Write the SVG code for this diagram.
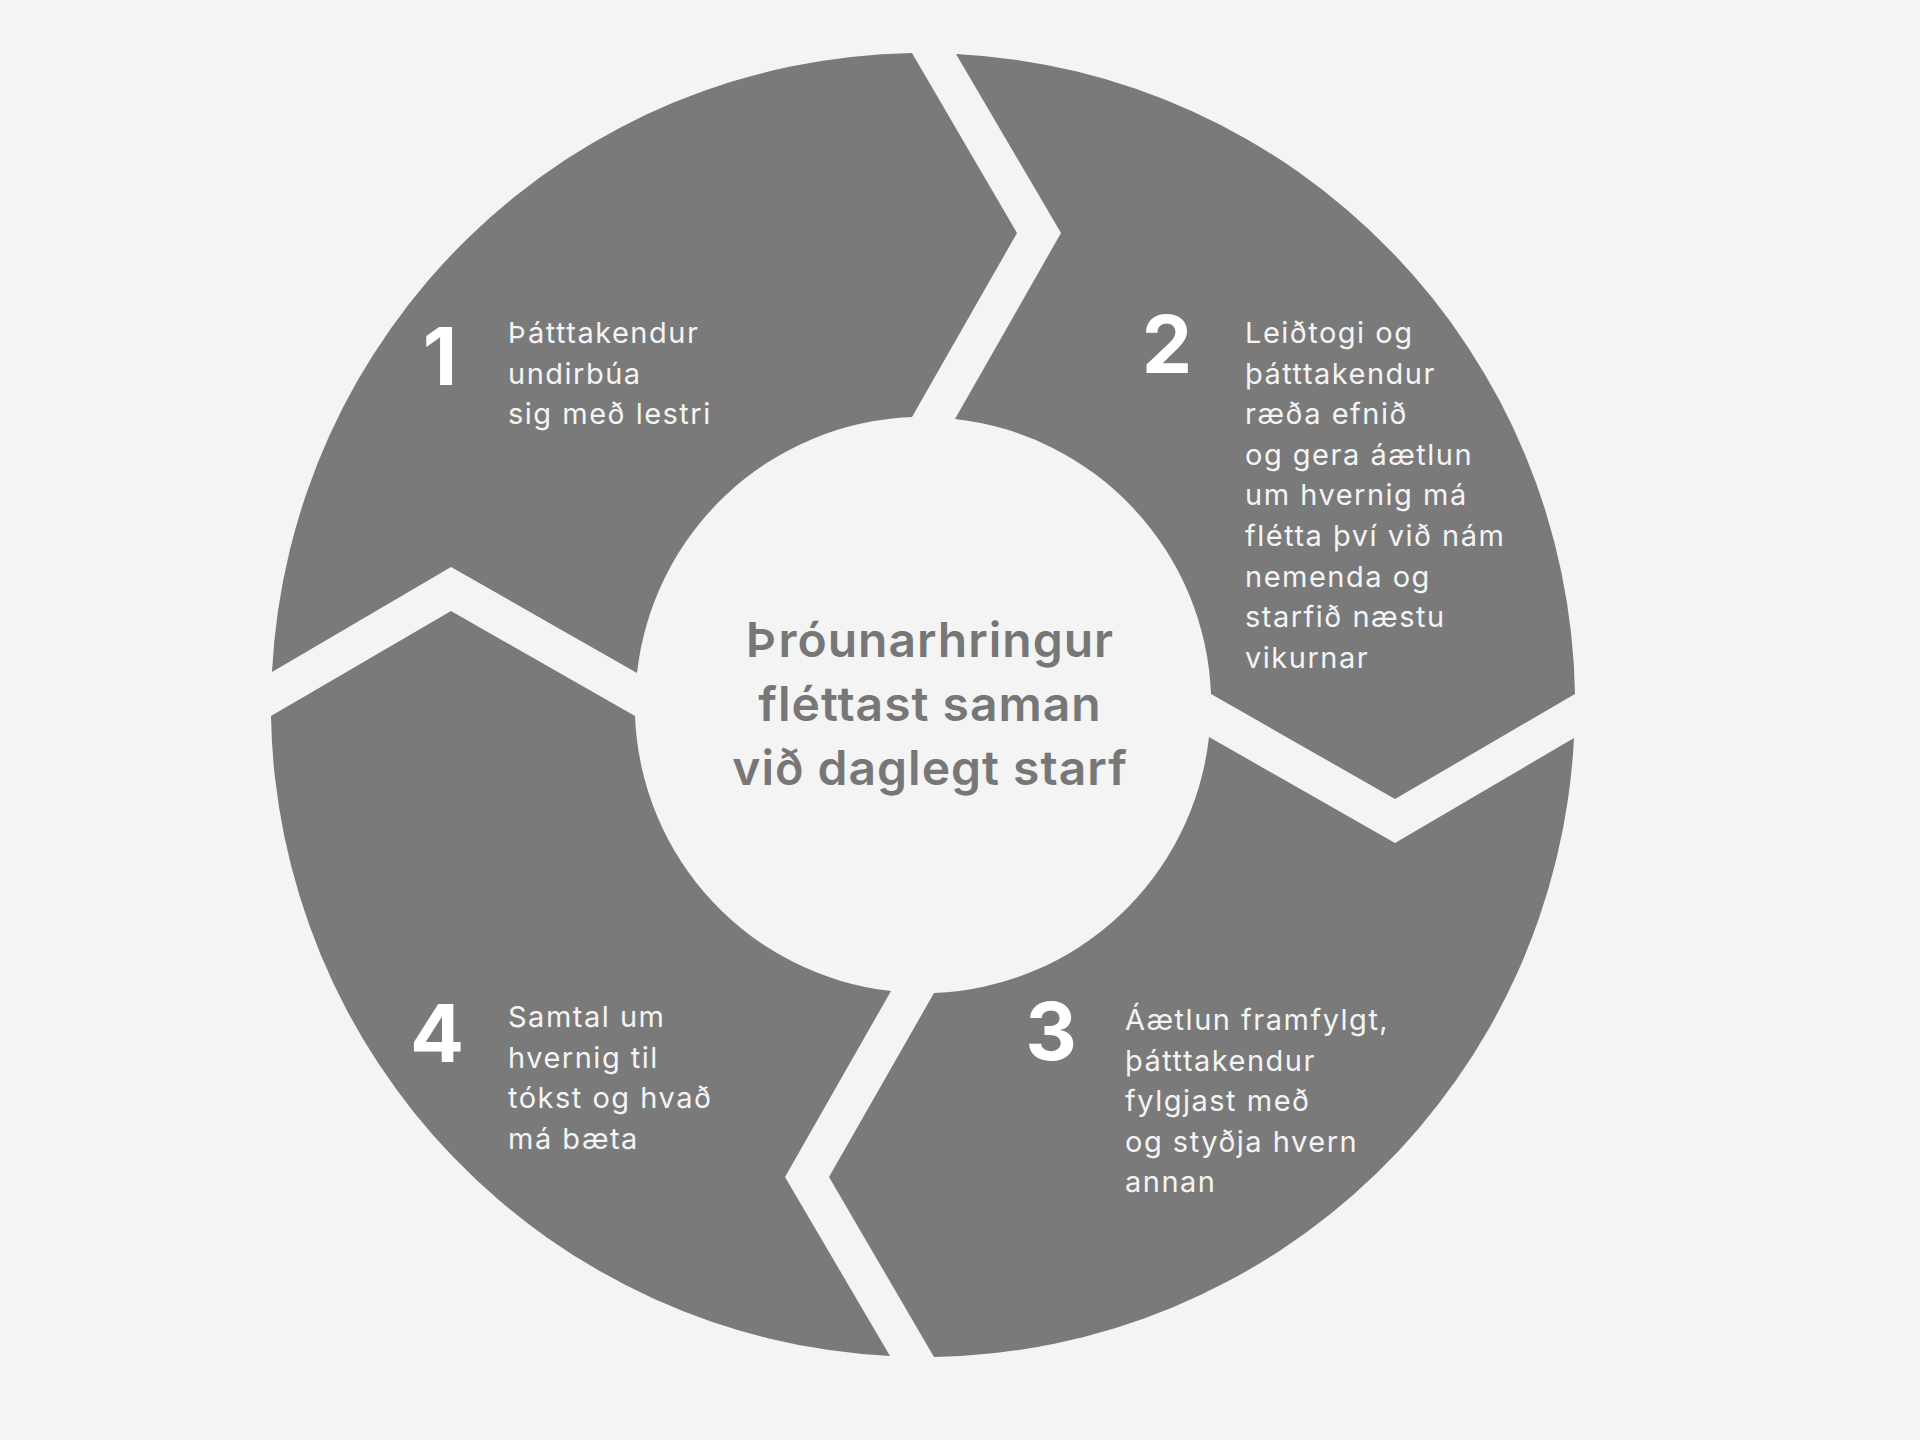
<svg xmlns="http://www.w3.org/2000/svg" width="1920" height="1440" viewBox="0 0 1920 1440">
<style>
.seg{fill:#7a7a7a}
.num{font-family:Inter,"Liberation Sans",sans-serif;font-weight:700;font-size:80px;fill:#ffffff;text-anchor:middle}
.body{font-family:Inter,"Liberation Sans",sans-serif;font-weight:400;font-size:29px;letter-spacing:1.5px;fill:#f4f4f4}
.center{font-family:Inter,"Liberation Sans",sans-serif;font-weight:600;font-size:48px;letter-spacing:1px;fill:#777777;text-anchor:middle}
</style>
<rect x="0" y="0" width="1920" height="1440" fill="#f4f4f4"/>
<g id="step1">
<path class="seg" d="M 272,672 A 652 652 0 0 1 912,53 L 1017,233 L 912,417 A 288 288 0 0 0 637,673 L 451,567 Z"/>
<text class="num" x="440" y="385">1</text>
<text class="body"><tspan x="508" y="343">Þátttakendur</tspan><tspan x="508" y="383.5">undirbúa</tspan><tspan x="508" y="424">sig með lestri</tspan></text>
</g>
<g id="step2">
<path class="seg" d="M 956,54 A 652 652 0 0 1 1575,694 L 1395,799 L 1211,694 A 288 288 0 0 0 955,419 L 1061,233 Z"/>
<text class="num" x="1167" y="373">2</text>
<text class="body"><tspan x="1245" y="343">Leiðtogi og</tspan><tspan x="1245" y="383.6">þátttakendur</tspan><tspan x="1245" y="424.2">ræða efnið</tspan><tspan x="1245" y="464.8">og gera áætlun</tspan><tspan x="1245" y="505.4">um hvernig má</tspan><tspan x="1245" y="546">flétta því við nám</tspan><tspan x="1245" y="586.6">nemenda og</tspan><tspan x="1245" y="627.2">starfið næstu</tspan><tspan x="1245" y="667.8">vikurnar</tspan></text>
</g>
<g id="step3">
<path class="seg" d="M 1574,738 A 652 652 0 0 1 934,1357 L 829,1177 L 934,993 A 288 288 0 0 0 1209,737 L 1395,843 Z"/>
<text class="num" x="1051" y="1060">3</text>
<text class="body"><tspan x="1125" y="1030">Áætlun framfylgt,</tspan><tspan x="1125" y="1070.5">þátttakendur</tspan><tspan x="1125" y="1111">fylgjast með</tspan><tspan x="1125" y="1151.5">og styðja hvern</tspan><tspan x="1125" y="1192">annan</tspan></text>
</g>
<g id="step4">
<path class="seg" d="M 890,1356 A 652 652 0 0 1 271,716 L 451,611 L 635,716 A 288 288 0 0 0 891,991 L 785,1177 Z"/>
<text class="num" x="437" y="1062">4</text>
<text class="body"><tspan x="508" y="1027">Samtal um</tspan><tspan x="508" y="1067.5">hvernig til</tspan><tspan x="508" y="1108">tókst og hvað</tspan><tspan x="508" y="1148.5">má bæta</tspan></text>
</g>
<g id="hub">
<text class="center"><tspan x="930" y="657">Þróunarhringur</tspan><tspan x="930" y="721">fléttast saman</tspan><tspan x="930" y="785">við daglegt starf</tspan></text>
</g>
<g id="connectors"></g>
</svg>
